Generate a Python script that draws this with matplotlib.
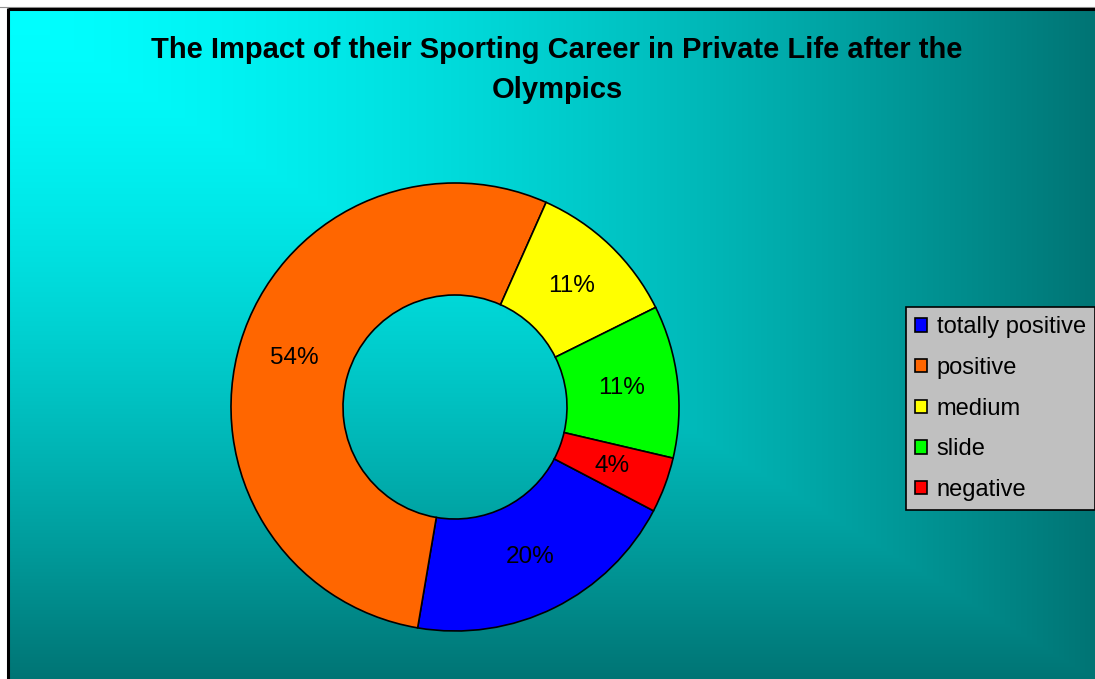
import numpy as np
import matplotlib
matplotlib.use("Agg")
import matplotlib.pyplot as plt

plt.rcParams['font.family'] = ['Liberation Sans', 'DejaVu Sans']

# impact categories and their shares (percent)
categories = ['totally positive', 'positive', 'medium', 'slide', 'negative']
shares = [20, 54, 11, 11, 4]
colors = ['#0000FF', '#FF6600', '#FFFF00', '#00FF00', '#FF0000']
title = 'The Impact of their Sporting Career in Private Life after the\nOlympics'

W, H = 1095, 679
fig = plt.figure(figsize=(W / 100, H / 100), dpi=100)
fig.patch.set_facecolor('white')

# corner gradient filling the chart area, placed pixel for pixel
x0, y0 = 9, 10
xs = (np.arange(x0, W) - x0) / (W - x0)
ys = (np.arange(y0, H) - y0) / (H - y0)
u, v = np.meshgrid(xs, ys)
t = np.maximum(u, v) ** 1.5
start = np.array([0, 255, 255]) / 255
end = np.array([0, 116, 116]) / 255
img = start[None, None, :] * (1 - t[..., None]) + end[None, None, :] * t[..., None]
fig.figimage(img, xo=x0, yo=0, origin='upper', zorder=-1)

bg = fig.add_axes([0, 0, 1, 1])
bg.set_xlim(0, W)
bg.set_ylim(H, 0)
bg.axis('off')
bg.plot([0, W], [7, 7], color='#909090', lw=0.8)
bg.plot([x0 - 1, W + 5], [y0 - 1, y0 - 1], color='black', lw=2.2, solid_capstyle='butt')
bg.plot([x0 - 1, x0 - 1], [y0 - 2, H + 5], color='black', lw=2.2, solid_capstyle='butt')

bg.text(557, 70, title, ha='center', va='center', fontsize=21,
        fontweight='bold', linespacing=1.55)

# donut
cx, cy, r = 455, 407, 224
ax = fig.add_axes([(cx - r) / W, (H - cy - r) / H, 2 * r / W, 2 * r / H])
ax.axis('off')

wedges, texts, autotexts = ax.pie(
    shares, colors=colors, startangle=90 - 117.6, counterclock=False,
    radius=1, autopct='%d%%', pctdistance=0.75,
    wedgeprops=dict(width=0.5, edgecolor='black', linewidth=1.2),
    textprops=dict(fontsize=17.5, color='black'))
ax.set_xlim(-1, 1)
ax.set_ylim(-1, 1)

leg = fig.legend(wedges, categories, loc='upper left',
                 bbox_to_anchor=(906 / W, 1 - 307 / H),
                 fontsize=17, frameon=True, fancybox=False,
                 facecolor='#C0C0C0', edgecolor='black', framealpha=1,
                 handlelength=0.5, handleheight=0.5, handletextpad=0.4,
                 labelspacing=0.79, borderpad=0.4, borderaxespad=0)
leg.get_frame().set_linewidth(1.2)

fig.savefig('out.png', dpi=100)
